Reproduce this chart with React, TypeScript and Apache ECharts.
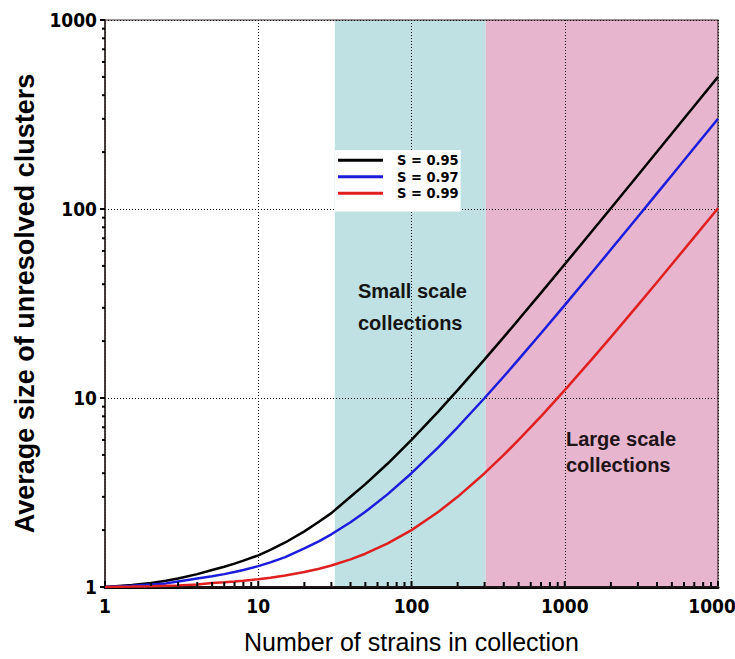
import React, { useEffect, useRef } from "react";
import * as echarts from "echarts";

// Collection sizes (number of strains) at which the cluster sizes are plotted
const strains = [1, 1.5, 2, 2.5, 3, 4, 5, 6, 7, 8, 10, 12, 15, 20, 25, 30, 40, 50, 70, 100, 150, 200, 300, 400, 500, 700, 1000, 1500, 2000, 3000, 4000, 5000, 7000, 10000];

// Average size of unresolved clusters for each similarity threshold S
const s095 = [1, 1.025, 1.05, 1.08, 1.11, 1.17, 1.23, 1.28, 1.33, 1.38, 1.47, 1.57, 1.72, 1.97, 2.22, 2.46, 3.0, 3.5, 4.5, 6.0, 8.5, 11, 16, 21, 26, 36, 51, 76, 101, 151, 201, 251, 351, 500];
const s097 = [1, 1.015, 1.03, 1.045, 1.07, 1.11, 1.14, 1.17, 1.2, 1.23, 1.29, 1.35, 1.44, 1.6, 1.75, 1.9, 2.2, 2.5, 3.1, 4.0, 5.5, 7.0, 10, 13, 16, 22, 31, 46, 61, 91, 121, 151, 211, 300];
const s099 = [1, 1.005, 1.01, 1.015, 1.02, 1.03, 1.05, 1.06, 1.07, 1.08, 1.1, 1.12, 1.15, 1.2, 1.25, 1.3, 1.4, 1.5, 1.7, 2.0, 2.5, 3.0, 4.0, 5.0, 6.0, 8.0, 11, 16, 21, 31, 41, 51, 71, 101];

const seriesNames = ["S = 0.95", "S = 0.97", "S = 0.99"];
const seriesColors = ["#000000", "#1c1cdc", "#e02020"];

// Collection-size ranges
const smallScaleRange = [31.6, 305];
const largeScaleRange = [305, 10000];

// Tick positions along each log axis
const xMajorTicks = [1, 10, 100, 1000, 10000];
const yMajorTicks = [1, 10, 100, 1000];
const xMinorTicks = [2, 3, 4, 5, 6, 7, 8, 9, 20, 30, 40, 50, 60, 70, 80, 90, 200, 300, 400, 500, 600, 700, 800, 900, 2000, 3000, 4000, 5000, 6000, 7000, 8000, 9000];
const yMinorTicks = [2, 3, 4, 5, 6, 7, 8, 9, 20, 30, 40, 50, 60, 70, 80, 90, 200, 300, 400, 500, 600, 700, 800, 900];

const NARROW = "'Liberation Sans Narrow', 'DejaVu Sans Condensed', sans-serif";
const SANS = "'Liberation Sans', Arial, sans-serif";

export default function App() {
  const ref = useRef<HTMLDivElement>(null);

  useEffect(() => {
    if (!ref.current) return;
    const chart = echarts.init(ref.current, undefined, { renderer: "svg" });

    const lineSeries = [s095, s097, s099].map((vals, i) => ({
      name: seriesNames[i],
      type: "line",
      data: strains.map((x, j) => [x, vals[j]]),
      showSymbol: false,
      smooth: false,
      lineStyle: { color: seriesColors[i], width: 2.5 },
      itemStyle: { color: seriesColors[i] },
      z: 3,
      ...(i === 0
        ? {
            markArea: {
              silent: true,
              z: 1,
              data: [
                [
                  { xAxis: smallScaleRange[0], itemStyle: { color: "#bfe1e3", opacity: 1 } },
                  { xAxis: smallScaleRange[1] },
                ],
                [
                  { xAxis: largeScaleRange[0], itemStyle: { color: "#e7b5cd", opacity: 1 } },
                  { xAxis: largeScaleRange[1] },
                ],
              ],
            },
          }
        : {}),
    }));

    const annotations = [
      {
        type: "text",
        left: 358,
        top: 275,
        z: 10,
        style: {
          text: "Small scale\ncollections",
          font: `bold 20px ${SANS}`,
          lineHeight: 32,
          fill: "#141414",
        },
      },
      {
        type: "text",
        left: 566,
        top: 426,
        z: 10,
        style: {
          text: "Large scale\ncollections",
          font: `bold 20px ${SANS}`,
          lineHeight: 26,
          fill: "#1e1418",
        },
      },
    ];

    const option: any = {
      animation: false,
      backgroundColor: "#ffffff",
      grid: {
        left: 105,
        right: 17,
        top: 20,
        bottom: 72,
        outerBoundsMode: "none",
        containLabel: false,
        show: true,
        z: 3,
        backgroundColor: "transparent",
        borderColor: "#3a2a2a",
        borderWidth: 1.2,
      },
      legend: {
        orient: "vertical",
        left: 335,
        top: 150,
        padding: [2, 2, 10, 3],
        itemGap: 0,
        itemWidth: 45,
        itemHeight: 3,
        icon: "rect",
        backgroundColor: "#ffffff",
        data: seriesNames,
        textStyle: {
          fontFamily: NARROW,
          fontWeight: "bold",
          fontSize: 14.5,
          lineHeight: 16.5,
          color: "#000",
          padding: [0, 0, 0, 9],
        },
      },
      xAxis: {
        type: "log",
        logBase: 10,
        min: 1,
        max: 10000,
        z: 1.5,
        name: "Number of strains in collection",
        nameLocation: "middle",
        nameGap: 42,
        nameTextStyle: { fontFamily: SANS, fontSize: 25, color: "#000" },
        axisLine: { show: true, lineStyle: { color: "#000", width: 3 } },
        axisTick: { show: false },
        axisLabel: {
          margin: 9,
          fontFamily: NARROW,
          fontWeight: "bold",
          fontSize: 19,
          color: "#000",
          formatter: (v: number) => String(Math.round(v)),
        },
        splitLine: { show: true, lineStyle: { color: "#000", type: [1, 2], width: 1 } },
      },
      yAxis: {
        type: "log",
        logBase: 10,
        min: 1,
        max: 1000,
        z: 1.5,
        name: "Average size of unresolved clusters",
        nameLocation: "middle",
        nameGap: 64,
        nameTextStyle: { fontFamily: SANS, fontWeight: "bold", fontSize: 27, color: "#000" },
        axisLine: { show: true, lineStyle: { color: "#222", width: 1.5 } },
        axisTick: { show: false },
        axisLabel: {
          margin: 8,
          fontFamily: NARROW,
          fontWeight: "bold",
          fontSize: 19,
          color: "#000",
          formatter: (v: number) => String(Math.round(v)),
        },
        splitLine: { show: true, lineStyle: { color: "#000", type: [1, 2], width: 1 } },
      },
      graphic: annotations,
      series: lineSeries,
    };

    chart.setOption(option);

    // Tick marks placed through the chart's own log scales:
    // x ticks point up into the plot, y ticks point out to the left
    const ticks: any[] = [];
    const addX = (v: number, len: number) => {
      const p = chart.convertToPixel({ gridIndex: 0 }, [v, 1]) as number[];
      if (!p) return;
      ticks.push({
        type: "line",
        z: 6,
        silent: true,
        shape: { x1: p[0], y1: p[1] - 1, x2: p[0], y2: p[1] - len },
        style: { stroke: "#000", lineWidth: 2 },
      });
    };
    const addY = (v: number, len: number) => {
      const p = chart.convertToPixel({ gridIndex: 0 }, [1, v]) as number[];
      if (!p) return;
      ticks.push({
        type: "line",
        z: 6,
        silent: true,
        shape: { x1: p[0] - len, y1: p[1], x2: p[0], y2: p[1] },
        style: { stroke: "#000", lineWidth: 2 },
      });
    };
    xMajorTicks.forEach((v) => addX(v, 6));
    xMinorTicks.forEach((v) => addX(v, 5));
    yMajorTicks.forEach((v) => addY(v, 5));
    yMinorTicks.forEach((v) => addY(v, 3));
    chart.setOption({ graphic: [...annotations, ...ticks] });

    return () => chart.dispose();
  }, []);

  return (
    <div
      ref={ref}
      style={{ position: "fixed", left: 0, top: 0, width: 735, height: 659, background: "#fff" }}
    />
  );
}
